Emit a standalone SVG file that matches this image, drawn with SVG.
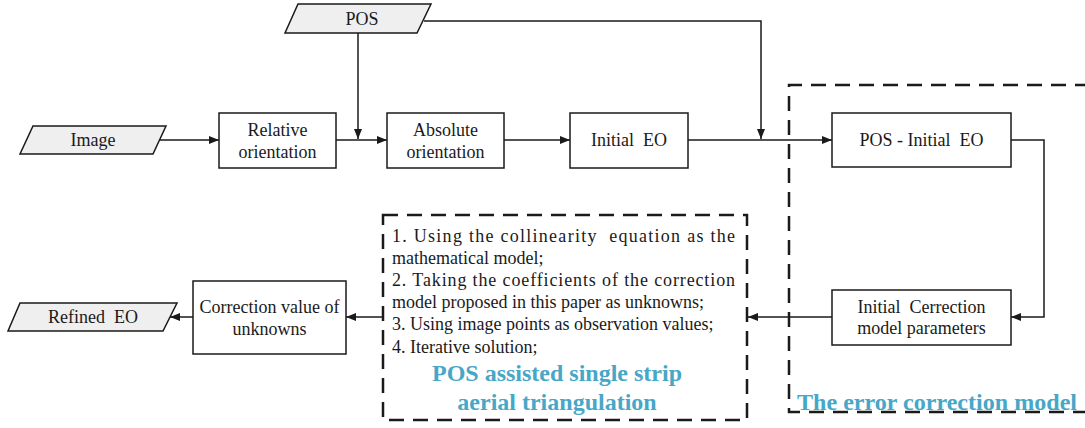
<svg xmlns="http://www.w3.org/2000/svg" width="1085" height="428" viewBox="0 0 1085 428">
<style>
text{font-family:"Liberation Serif","Times New Roman",serif;font-size:18px;fill:#1a1a1a;white-space:pre}
.c{text-anchor:middle}
.box{fill:#fff;stroke:#1a1a1a;stroke-width:1.5}
.io{fill:#efefef;stroke:#1a1a1a;stroke-width:1.5}
.ln{fill:none;stroke:#1a1a1a;stroke-width:1.5}
.dash{fill:none;stroke:#1a1a1a;stroke-width:2.5;stroke-dasharray:15 9}
.blue{fill:#47a7c7;font-weight:bold;font-size:24px}
</style>
<defs>
<marker id="ah" viewBox="0 0 10 8" refX="10" refY="4" markerWidth="10" markerHeight="8" markerUnits="userSpaceOnUse" orient="auto">
<path d="M0,0 L10,4 L0,8 Z" fill="#1a1a1a"/>
</marker>
</defs>
<g id="connectors">
<line class="ln" x1="160" y1="140" x2="219" y2="140" marker-end="url(#ah)"/>
<line class="ln" x1="336" y1="140" x2="387" y2="140" marker-end="url(#ah)"/>
<line class="ln" x1="358" y1="33" x2="358" y2="139" marker-end="url(#ah)"/>
<line class="ln" x1="504" y1="140" x2="570" y2="140" marker-end="url(#ah)"/>
<polyline class="ln" points="424,21 761,21 761,139" marker-end="url(#ah)"/>
<line class="ln" x1="688" y1="140" x2="832" y2="140" marker-end="url(#ah)"/>
<polyline class="ln" points="1011,140 1044,140 1044,317 1011,317" marker-end="url(#ah)"/>
<line class="ln" x1="832" y1="317" x2="748" y2="317" marker-end="url(#ah)"/>
<line class="ln" x1="383" y1="317" x2="346" y2="317" marker-end="url(#ah)"/>
<line class="ln" x1="193" y1="317" x2="170" y2="317" marker-end="url(#ah)"/>
</g>
<g id="error-correction-group">
<path class="dash" d="M1090,85 L789,85 L789,412 L1090,412"/>
<text class="blue" x="797" y="410" textLength="280" lengthAdjust="spacingAndGlyphs">The error correction model</text>
</g>
<g id="triangulation-group">
<rect class="dash" x="383" y="215" width="364" height="205"/>
<text x="392" y="242" textLength="343" lengthAdjust="spacing">1. Using the collinearity  equation as the</text>
<text x="392" y="264">mathematical model;</text>
<text x="392" y="286" textLength="343" lengthAdjust="spacing">2. Taking the coefficients of the correction</text>
<text x="392" y="308">model proposed in this paper as unknowns;</text>
<text x="392" y="330">3. Using image points as observation values;</text>
<text x="392" y="353">4. Iterative solution;</text>
<text class="blue c" x="557" y="381">POS assisted single strip</text>
<text class="blue c" x="557" y="410">aerial triangulation</text>
</g>
<g id="pos">
<polygon class="io" points="298,4 431,4 417,33 285,33"/>
<text class="c" x="362" y="25">POS</text>
</g>
<g id="image">
<polygon class="io" points="33,126 166,126 153,154 20,154"/>
<text class="c" x="93" y="146">Image</text>
</g>
<g id="relative-orientation">
<rect class="box" x="219" y="113" width="117" height="55"/>
<text class="c" x="277.5" y="136">Relative</text>
<text class="c" x="277.5" y="158">orientation</text>
</g>
<g id="absolute-orientation">
<rect class="box" x="387" y="113" width="117" height="55"/>
<text class="c" x="445.5" y="136">Absolute</text>
<text class="c" x="445.5" y="158">orientation</text>
</g>
<g id="initial-eo">
<rect class="box" x="570" y="113" width="118" height="55"/>
<text class="c" x="629" y="146">Initial  EO</text>
</g>
<g id="pos-initial-eo">
<rect class="box" x="832" y="113" width="179" height="54"/>
<text class="c" x="921.5" y="146">POS - Initial  EO</text>
</g>
<g id="initial-correction">
<rect class="box" x="832" y="290" width="179" height="55"/>
<text class="c" x="921.5" y="313">Initial  Cerrection</text>
<text class="c" x="921.5" y="334">model parameters</text>
</g>
<g id="correction-value">
<rect class="box" x="193" y="281" width="153" height="73"/>
<text class="c" x="269.5" y="313">Correction value of</text>
<text class="c" x="269.5" y="335">unknowns</text>
</g>
<g id="refined-eo">
<polygon class="io" points="20,303 177,303 163,331 8,331"/>
<text class="c" x="93" y="323">Refined  EO</text>
</g>
</svg>
